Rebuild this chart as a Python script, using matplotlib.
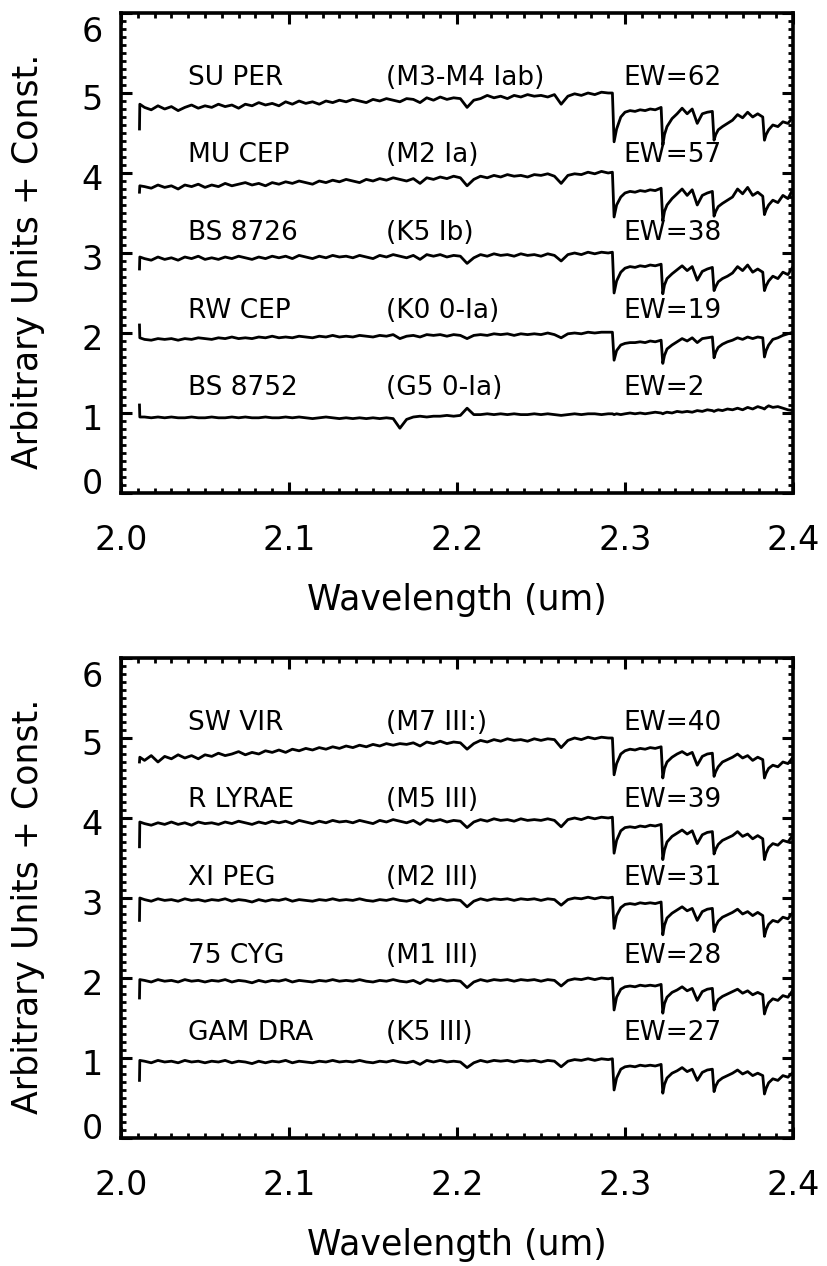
import numpy as np
import matplotlib
matplotlib.use('Agg')
import matplotlib.pyplot as plt
from matplotlib.ticker import MultipleLocator
from matplotlib.transforms import ScaledTranslation

plt.rcParams['font.family'] = ['DejaVu Sans']

# wavelength grid (um): start of spectrum, regular continuum sampling, CO region
CONT_WAVE = [2.0110, 2.0112] + list(np.round(np.arange(2.014, 2.2905, 0.004), 4))
CO_WAVE = [2.2925, 2.2935, 2.2950, 2.2975, 2.3000, 2.3030, 2.3060, 2.3090, 2.3120, 2.3150, 2.3180,
           2.3215, 2.3225, 2.3235, 2.3250, 2.3280, 2.3310, 2.3340, 2.3370, 2.3400, 2.3430, 2.3460,
           2.3490, 2.3520, 2.3530, 2.3540, 2.3555, 2.3580, 2.3610, 2.3640, 2.3670, 2.3700, 2.3730,
           2.3760, 2.3790, 2.3820, 2.3830, 2.3840, 2.3855, 2.3880, 2.3910, 2.3940, 2.3970, 2.4000]
WAVE = CONT_WAVE + CO_WAVE

XTICKS = [2.0, 2.1, 2.2, 2.3, 2.4]
XTICK_LABELS = ['2.0', '2.1', '2.2', '2.3', '2.4']
YTICKS = [0, 1, 2, 3, 4, 5, 6]

# ---- top panel: supergiants ----
SU_PER = [4.55, 4.86,
          4.82, 4.79, 4.84, 4.80, 4.83, 4.78, 4.82, 4.85, 4.81, 4.84,
          4.82, 4.86, 4.83, 4.85, 4.81, 4.86, 4.84, 4.88, 4.85, 4.87,
          4.84, 4.89, 4.86, 4.90, 4.87, 4.89, 4.86, 4.90, 4.88, 4.91,
          4.89, 4.92, 4.90, 4.88, 4.92, 4.90, 4.93, 4.91, 4.89, 4.93,
          4.92, 4.88, 4.94, 4.91, 4.95, 4.92, 4.94, 4.93, 4.82, 4.91,
          4.93, 4.97, 4.94, 4.96, 4.93, 4.97, 4.95, 4.98, 4.96, 4.97,
          4.95, 4.98, 4.86, 4.96, 4.99, 4.97, 5.00, 4.98, 5.01, 5.00,
          5.00, 4.39, 4.55, 4.70, 4.76, 4.78, 4.77, 4.79, 4.78, 4.80, 4.79,
          4.82, 4.35, 4.48, 4.58, 4.68, 4.74, 4.81, 4.74, 4.80, 4.62, 4.74,
          4.76, 4.77, 4.41, 4.48, 4.54, 4.58, 4.62, 4.66, 4.73, 4.69, 4.76,
          4.70, 4.74, 4.70, 4.41, 4.48, 4.54, 4.60, 4.58, 4.64, 4.62, 4.70]
MU_CEP = [3.76, 3.84,
          3.83, 3.81, 3.85, 3.82, 3.84, 3.80, 3.85, 3.83, 3.86, 3.82,
          3.85, 3.83, 3.87, 3.84, 3.86, 3.88, 3.85, 3.87, 3.84, 3.88,
          3.86, 3.89, 3.87, 3.90, 3.88, 3.86, 3.90, 3.88, 3.91, 3.89,
          3.92, 3.90, 3.88, 3.92, 3.90, 3.93, 3.91, 3.94, 3.92, 3.90,
          3.93, 3.87, 3.94, 3.92, 3.95, 3.93, 3.96, 3.94, 3.84, 3.92,
          3.96, 3.94, 3.97, 3.95, 3.98, 3.96, 3.97, 3.95, 3.98, 3.97,
          3.99, 3.96, 3.87, 3.97, 3.99, 3.98, 4.01, 3.99, 4.02, 4.00,
          4.01, 3.45, 3.60, 3.70, 3.75, 3.77, 3.76, 3.78, 3.77, 3.79, 3.78,
          3.81, 3.40, 3.52, 3.60, 3.68, 3.74, 3.80, 3.72, 3.79, 3.60, 3.72,
          3.75, 3.77, 3.46, 3.52, 3.58, 3.62, 3.66, 3.70, 3.80, 3.74, 3.82,
          3.72, 3.76, 3.71, 3.48, 3.54, 3.60, 3.66, 3.63, 3.72, 3.68, 3.80]
BS_8726 = [2.80, 2.95,
           2.93, 2.91, 2.95, 2.92, 2.94, 2.91, 2.95, 2.93, 2.96, 2.92,
           2.94, 2.92, 2.95, 2.93, 2.96, 2.94, 2.92, 2.95, 2.93, 2.96,
           2.94, 2.96, 2.93, 2.97, 2.95, 2.93, 2.96, 2.94, 2.97, 2.95,
           2.96, 2.94, 2.97, 2.95, 2.93, 2.97, 2.95, 2.98, 2.96, 2.94,
           2.97, 2.92, 2.98, 2.96, 2.98, 2.95, 2.97, 2.96, 2.87, 2.94,
           2.98, 2.96, 2.99, 2.97, 2.98, 2.96, 2.99, 2.97, 2.98, 2.96,
           2.99, 2.97, 2.90, 2.98, 3.00, 2.98, 3.01, 2.99, 3.01, 3.00,
           3.01, 2.50, 2.65, 2.76, 2.81, 2.83, 2.82, 2.84, 2.83, 2.85, 2.84,
           2.86, 2.49, 2.60, 2.68, 2.74, 2.79, 2.84, 2.78, 2.83, 2.66, 2.77,
           2.80, 2.82, 2.53, 2.58, 2.64, 2.68, 2.71, 2.75, 2.83, 2.78, 2.85,
           2.76, 2.80, 2.76, 2.53, 2.59, 2.65, 2.71, 2.68, 2.76, 2.73, 2.83]
RW_CEP = [2.10, 1.94,
          1.92, 1.91, 1.93, 1.92, 1.93, 1.91, 1.93, 1.92, 1.94, 1.93,
          1.92, 1.94, 1.93, 1.95, 1.93, 1.94, 1.93, 1.95, 1.94, 1.96,
          1.94, 1.95, 1.94, 1.96, 1.95, 1.94, 1.96, 1.95, 1.97, 1.95,
          1.96, 1.95, 1.97, 1.96, 1.95, 1.97, 1.96, 1.98, 1.93, 1.96,
          1.97, 1.95, 1.98, 1.97, 1.98, 1.96, 1.98, 1.97, 1.93, 1.97,
          1.98, 1.97, 1.99, 1.98, 1.99, 1.97, 1.99, 1.98, 1.99, 1.98,
          2.00, 1.98, 1.94, 1.99, 2.00, 1.99, 2.01, 2.00, 2.01, 2.01,
          2.01, 1.66, 1.78, 1.85, 1.87, 1.88, 1.88, 1.89, 1.88, 1.90, 1.89,
          1.91, 1.62, 1.72, 1.80, 1.85, 1.89, 1.93, 1.90, 1.94, 1.88, 1.93,
          1.94, 1.95, 1.69, 1.76, 1.82, 1.86, 1.89, 1.91, 1.94, 1.92, 1.95,
          1.93, 1.95, 1.94, 1.70, 1.78, 1.85, 1.92, 1.94, 1.97, 1.99, 2.01]
BS_8752 = [1.10, 0.95,
           0.95, 0.94, 0.95, 0.94, 0.95, 0.94, 0.94, 0.95, 0.94, 0.94,
           0.95, 0.94, 0.94, 0.95, 0.94, 0.95, 0.94, 0.94, 0.95, 0.94,
           0.94, 0.95, 0.94, 0.95, 0.94, 0.93, 0.94, 0.95, 0.94, 0.93,
           0.94, 0.93, 0.94, 0.93, 0.94, 0.93, 0.94, 0.93, 0.81, 0.92,
           0.95, 0.96, 0.95, 0.96, 0.96, 0.97, 0.96, 0.97, 1.06, 0.98,
           0.98, 0.99, 0.98, 0.99, 0.98, 0.99, 0.98, 0.98, 0.99, 0.98,
           0.99, 0.98, 0.97, 0.98, 0.99, 0.98, 0.99, 0.99, 0.98, 0.99,
           0.99, 0.98, 0.99, 0.98, 0.99, 1.00, 0.99, 1.00, 0.99, 1.00, 1.01,
           1.00, 0.99, 1.00, 1.01, 1.00, 1.02, 1.01, 1.02, 1.01, 1.03, 1.02,
           1.04, 1.03, 1.02, 1.03, 1.04, 1.03, 1.05, 1.04, 1.06, 1.04, 1.07,
           1.05, 1.08, 1.06, 1.05, 1.07, 1.09, 1.07, 1.08, 1.06, 1.04, 1.03]

# ---- bottom panel: giants ----
SW_VIR = [4.70, 4.76,
          4.72, 4.78, 4.70, 4.77, 4.74, 4.79, 4.75, 4.78, 4.74, 4.79,
          4.77, 4.81, 4.78, 4.80, 4.83, 4.79, 4.82, 4.80, 4.84, 4.82,
          4.85, 4.82, 4.86, 4.84, 4.87, 4.85, 4.88, 4.86, 4.89, 4.87,
          4.90, 4.88, 4.91, 4.89, 4.92, 4.90, 4.93, 4.91, 4.93, 4.92,
          4.94, 4.90, 4.95, 4.93, 4.96, 4.93, 4.95, 4.94, 4.86, 4.93,
          4.97, 4.95, 4.98, 4.96, 4.99, 4.97, 4.98, 4.96, 4.99, 4.97,
          4.99, 4.98, 4.88, 4.97, 5.00, 4.98, 5.01, 4.99, 5.01, 5.00,
          5.00, 4.54, 4.68, 4.80, 4.84, 4.86, 4.85, 4.87, 4.86, 4.88, 4.87,
          4.89, 4.50, 4.62, 4.70, 4.76, 4.80, 4.83, 4.79, 4.82, 4.66, 4.77,
          4.80, 4.81, 4.52, 4.58, 4.64, 4.70, 4.73, 4.76, 4.80, 4.75, 4.78,
          4.72, 4.76, 4.73, 4.50, 4.56, 4.62, 4.66, 4.64, 4.70, 4.68, 4.76]
R_LYRAE = [3.64, 3.95,
           3.93, 3.91, 3.94, 3.92, 3.95, 3.92, 3.94, 3.91, 3.95, 3.93,
           3.94, 3.92, 3.95, 3.93, 3.96, 3.94, 3.92, 3.95, 3.93, 3.96,
           3.94, 3.96, 3.93, 3.97, 3.95, 3.93, 3.96, 3.94, 3.97, 3.95,
           3.96, 3.94, 3.97, 3.95, 3.93, 3.97, 3.95, 3.98, 3.96, 3.94,
           3.97, 3.92, 3.98, 3.96, 3.98, 3.95, 3.97, 3.96, 3.88, 3.95,
           3.98, 3.96, 3.99, 3.97, 3.98, 3.96, 3.99, 3.97, 3.98, 3.97,
           3.99, 3.97, 3.89, 3.98, 4.00, 3.98, 4.01, 3.99, 4.01, 4.00,
           4.01, 3.56, 3.72, 3.84, 3.88, 3.89, 3.88, 3.90, 3.89, 3.91, 3.90,
           3.92, 3.48, 3.60, 3.70, 3.77, 3.81, 3.85, 3.80, 3.84, 3.68, 3.79,
           3.82, 3.83, 3.55, 3.61, 3.67, 3.72, 3.75, 3.78, 3.83, 3.77, 3.80,
           3.74, 3.78, 3.74, 3.48, 3.56, 3.63, 3.68, 3.66, 3.72, 3.70, 3.79]
XI_PEG = [2.72, 3.00,
          2.98, 2.96, 2.99, 2.97, 2.98, 2.96, 2.99, 2.97, 2.98, 2.96,
          2.98, 2.97, 2.99, 2.96, 2.98, 2.97, 2.95, 2.98, 2.96, 2.98,
          2.97, 2.99, 2.96, 2.98, 2.97, 2.96, 2.98, 2.97, 2.99, 2.97,
          2.98, 2.97, 2.99, 2.97, 2.96, 2.98, 2.97, 2.99, 2.97, 2.96,
          2.98, 2.94, 2.99, 2.97, 2.99, 2.97, 2.98, 2.97, 2.89, 2.96,
          2.99, 2.97, 2.99, 2.98, 2.99, 2.97, 2.99, 2.98, 2.99, 2.97,
          2.99, 2.98, 2.91, 2.98, 3.00, 2.99, 3.01, 2.99, 3.01, 3.00,
          3.01, 2.62, 2.78, 2.88, 2.92, 2.93, 2.92, 2.94, 2.93, 2.94, 2.93,
          2.95, 2.54, 2.66, 2.75, 2.81, 2.85, 2.89, 2.84, 2.87, 2.72, 2.83,
          2.86, 2.87, 2.58, 2.65, 2.71, 2.76, 2.79, 2.82, 2.86, 2.80, 2.83,
          2.78, 2.82, 2.78, 2.52, 2.60, 2.67, 2.72, 2.70, 2.76, 2.74, 2.82]
CYG_75 = [1.75, 1.98,
          1.97, 1.95, 1.98, 1.96, 1.97, 1.95, 1.98, 1.96, 1.97, 1.95,
          1.97, 1.96, 1.98, 1.95, 1.97, 1.96, 1.94, 1.97, 1.95, 1.97,
          1.96, 1.98, 1.95, 1.97, 1.96, 1.95, 1.97, 1.96, 1.98, 1.96,
          1.97, 1.96, 1.98, 1.96, 1.95, 1.97, 1.96, 1.98, 1.96, 1.95,
          1.97, 1.93, 1.98, 1.96, 1.98, 1.96, 1.97, 1.96, 1.88, 1.95,
          1.98, 1.96, 1.98, 1.97, 1.98, 1.96, 1.98, 1.97, 1.98, 1.96,
          1.98, 1.97, 1.90, 1.97, 1.99, 1.98, 2.00, 1.98, 2.00, 1.99,
          2.00, 1.60, 1.76, 1.86, 1.89, 1.90, 1.89, 1.91, 1.90, 1.91, 1.90,
          1.92, 1.56, 1.68, 1.76, 1.82, 1.85, 1.89, 1.84, 1.87, 1.72, 1.83,
          1.86, 1.87, 1.60, 1.67, 1.73, 1.77, 1.80, 1.83, 1.86, 1.81, 1.84,
          1.79, 1.82, 1.79, 1.55, 1.62, 1.69, 1.74, 1.72, 1.78, 1.76, 1.85]
GAM_DRA = [0.72, 0.97,
           0.96, 0.94, 0.97, 0.95, 0.96, 0.94, 0.97, 0.95, 0.96, 0.94,
           0.96, 0.95, 0.97, 0.94, 0.96, 0.95, 0.93, 0.96, 0.94, 0.96,
           0.95, 0.97, 0.94, 0.96, 0.95, 0.94, 0.96, 0.95, 0.97, 0.95,
           0.96, 0.95, 0.97, 0.95, 0.94, 0.96, 0.95, 0.97, 0.95, 0.94,
           0.96, 0.92, 0.97, 0.95, 0.97, 0.95, 0.96, 0.95, 0.88, 0.94,
           0.97, 0.95, 0.97, 0.96, 0.97, 0.95, 0.97, 0.96, 0.97, 0.95,
           0.97, 0.96, 0.89, 0.96, 0.98, 0.97, 0.99, 0.97, 0.99, 0.98,
           0.99, 0.60, 0.75, 0.86, 0.89, 0.90, 0.89, 0.91, 0.90, 0.91, 0.90,
           0.92, 0.56, 0.67, 0.75, 0.81, 0.84, 0.88, 0.83, 0.86, 0.72, 0.82,
           0.85, 0.86, 0.58, 0.65, 0.71, 0.75, 0.78, 0.81, 0.85, 0.80, 0.83,
           0.78, 0.81, 0.78, 0.55, 0.62, 0.69, 0.74, 0.72, 0.78, 0.76, 0.82]

TOP_NAMES = ['SU PER', 'MU CEP', 'BS 8726', 'RW CEP', 'BS 8752']
TOP_TYPES = ['(M3-M4 Iab)', '(M2 Ia)', '(K5 Ib)', '(K0 0-Ia)', '(G5 0-Ia)']
TOP_EW = ['EW=62', 'EW=57', 'EW=38', 'EW=19', 'EW=2']
TOP_FLUX = [SU_PER, MU_CEP, BS_8726, RW_CEP, BS_8752]

BOT_NAMES = ['SW VIR', 'R LYRAE', 'XI PEG', '75 CYG', 'GAM DRA']
BOT_TYPES = ['(M7 III:)', '(M5 III)', '(M2 III)', '(M1 III)', '(K5 III)']
BOT_EW = ['EW=40', 'EW=39', 'EW=31', 'EW=28', 'EW=27']
BOT_FLUX = [SW_VIR, R_LYRAE, XI_PEG, CYG_75, GAM_DRA]

W, H = 827, 1266


def style_axes(fig, ax):
    ax.set_xlim(2.0, 2.4)
    ax.set_ylim(0, 6)
    ax.set_xticks(XTICKS)
    ax.set_xticklabels(XTICK_LABELS)
    ax.set_yticks(YTICKS)
    ax.set_yticklabels([str(v) for v in YTICKS])
    ax.xaxis.set_minor_locator(MultipleLocator(0.01))
    ax.yaxis.set_minor_locator(MultipleLocator(0.1))
    ax.tick_params(which='both', direction='in', top=True, right=True, color='black')
    ax.tick_params(which='major', length=8, width=2.2, labelsize=24)
    ax.tick_params(which='minor', length=3.5, width=2.0)
    ax.tick_params(axis='x', which='major', pad=22)
    ax.tick_params(axis='y', which='major', pad=13)
    for sp in ax.spines.values():
        sp.set_linewidth(2.6)
    # IDL pulls the end labels inside the axis range
    nudges = {0: 0.12, 6: -0.16}
    for tick, val in zip(ax.yaxis.get_major_ticks(), YTICKS):
        dy = nudges.get(val, -0.04)
        lab = tick.label1
        lab.set_transform(lab.get_transform() + ScaledTranslation(0, dy, fig.dpi_scale_trans))


def draw_panel(fig, ax, fluxes, names, types, ews):
    for i, flux in enumerate(fluxes):
        if len(flux) != len(WAVE):
            raise ValueError(f'{names[i]}: {len(flux)} points, expected {len(WAVE)}')
        ax.plot(WAVE, flux, color='black', linewidth=2.0, clip_on=True)
        # label row sits a little above each spectrum
        ylab = 1.31 + 0.97 * (len(fluxes) - 1 - i)
        ax.text(2.040, ylab, names[i], fontsize=19, ha='left', va='center')
        ax.text(2.158, ylab, types[i], fontsize=19, ha='left', va='center')
        ax.text(2.299, ylab, ews[i], fontsize=19, ha='left', va='center')
    style_axes(fig, ax)


def main():
    fig = plt.figure(figsize=(W / 100, H / 100), dpi=100)
    ax_top = fig.add_axes([121 / W, 1 - 493 / H, 672 / W, 480 / H])
    ax_bot = fig.add_axes([121 / W, 1 - 1138 / H, 672 / W, 480 / H])

    draw_panel(fig, ax_top, TOP_FLUX, TOP_NAMES, TOP_TYPES, TOP_EW)
    draw_panel(fig, ax_bot, BOT_FLUX, BOT_NAMES, BOT_TYPES, BOT_EW)

    for bottom_px in (493, 1138):
        fig.text(457 / W, 1 - (bottom_px + 107) / H, 'Wavelength (um)',
                 fontsize=25, ha='center', va='center')
        fig.text(28 / W, 1 - (bottom_px - 240 + 8) / H, 'Arbitrary Units + Const.',
                 fontsize=25, ha='center', va='center', rotation=90)

    fig.savefig('out.png', dpi=100)


if __name__ == '__main__':
    main()
